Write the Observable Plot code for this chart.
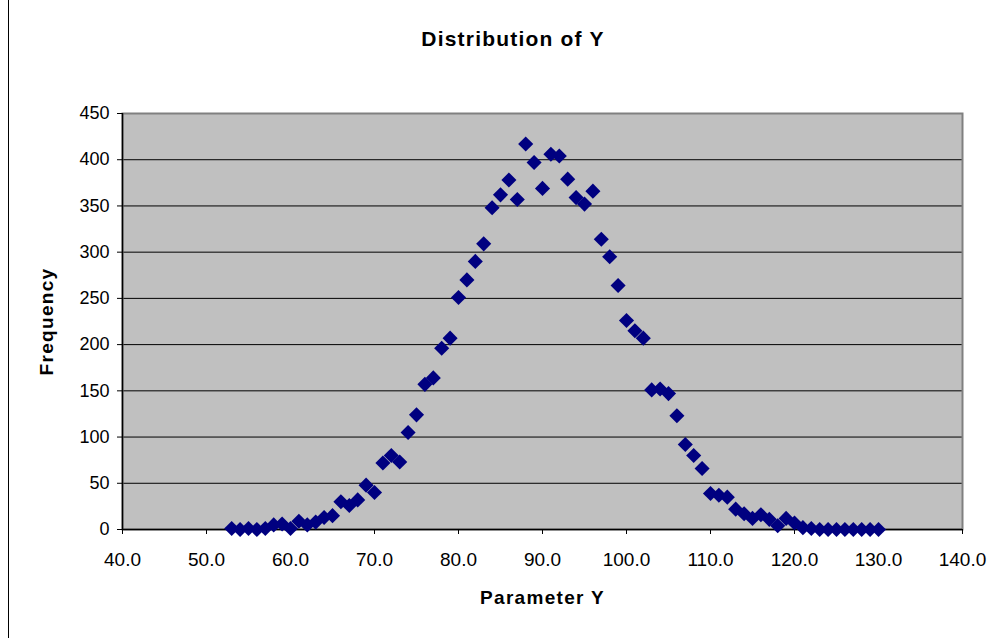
<!DOCTYPE html>
<html><head><meta charset="utf-8">
<script src="https://cdn.jsdelivr.net/npm/d3@7"></script>
<script src="https://cdn.jsdelivr.net/npm/@observablehq/plot@0.6"></script>
<style>
body{margin:0;background:#fff;}
#chart{position:relative;width:1005px;height:638px;overflow:hidden;font-family:Arial,"Liberation Sans",sans-serif;}
#border{position:absolute;left:8px;top:-1px;width:1020px;height:640px;border:1px solid #000;box-sizing:border-box;pointer-events:none;}
#title{position:absolute;left:0;top:27px;width:1026px;text-align:center;font-weight:bold;font-size:21px;letter-spacing:1.2px;color:#000;}
#plot{position:absolute;left:0;top:0;}
</style></head><body>
<div id="chart"><div id="plot"></div><div id="title">Distribution of Y</div><div id="border"></div></div>
<script>
const paramY = [53,54,55,56,57,58,59,60,61,62,63,64,65,66,67,68,69,70,71,72,73,74,75,76,77,78,79,80,81,82,83,84,85,86,87,88,89,90,91,92,93,94,95,96,97,98,99,100,101,102,103,104,105,106,107,108,109,110,111,112,113,114,115,116,117,118,119,120,121,122,123,124,125,126,127,128,129,130];
const frequency = [1,0,1,0,1,5,6,1,9,5,8,13,15,30,26,32,48,40,72,80,73,105,124,157,164,196,207,251,270,290,309,348,362,378,357,417,397,369,406,404,379,359,352,366,314,295,264,226,215,207,151,152,147,123,92,80,66,39,37,35,22,17,12,16,11,4,12,7,2,1,0,0,0,0,0,0,0,0];
const xTicks = [40,50,60,70,80,90,100,110,120,130,140];
const yTicks = [0,50,100,150,200,250,300,350,400,450];
const xTitle = "Parameter Y";
const yTitle = "Frequency";

const data = paramY.map((x, i) => ({x, f: frequency[i]}));

const chart = Plot.plot({
  width: 1005, height: 638,
  marginLeft: 122, marginRight: 43, marginTop: 113, marginBottom: 109,
  style: {fontFamily: "Arial, 'Liberation Sans', sans-serif", fontSize: "17px", color: "#000", background: "transparent", overflow: "visible"},
  x: {domain: [40, 140]},
  y: {domain: [0, 450]},
  marks: [
    Plot.frame({fill: "#C0C0C0", stroke: "none"}),
    Plot.gridY(yTicks.slice(1, -1), {stroke: "#000", strokeOpacity: 1, strokeWidth: 1}),
    Plot.frame({stroke: "#808080", strokeWidth: 2, fill: "none"}),
    Plot.ruleY([0], {stroke: "#000", strokeWidth: 1.5}),
    Plot.ruleX([40], {stroke: "#000", strokeWidth: 1.5}),
    Plot.axisX(xTicks, {tickSize: 5, tickPadding: 18, fontSize: 19, tickFormat: d3.format(".1f"), label: null, stroke: "#000"}),
    Plot.axisY(yTicks, {tickSize: 5, tickPadding: 8, fontSize: 18, label: null, stroke: "#000"}),
    Plot.text([xTitle], {frameAnchor: "bottom", dy: 74, fontWeight: "bold", fontSize: 19, fill: "#000"}),
    Plot.text([yTitle], {frameAnchor: "left", textAnchor: "middle", dx: -76, rotate: -90, fontWeight: "bold", fontSize: 19, fill: "#000"}),
    Plot.dot(data, {x: "x", y: "f", symbol: "diamond2", r: 6.8, fill: "#000080", stroke: "none"})
  ]
});
chart.querySelectorAll("text").forEach(t => {
  const s = t.textContent;
  if (s === xTitle || s === yTitle) t.setAttribute("letter-spacing", "1.3");
});
document.getElementById("plot").appendChild(chart);
</script>
</body></html>
